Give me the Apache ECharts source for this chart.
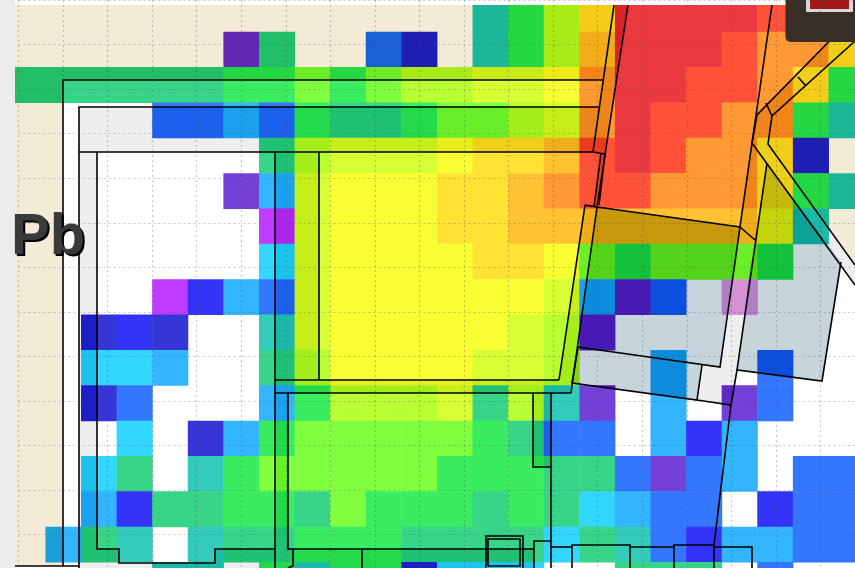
<!DOCTYPE html>
<html><head><meta charset="utf-8">
<style>html,body{margin:0;padding:0;background:#fff}#c{width:855px;height:568px}</style>
<script src="https://cdn.jsdelivr.net/npm/echarts@6/dist/echarts.min.js"></script>
</head><body><div id="c"></div>
<script>
// concentration level per cell (0 = no sample)
const row00=[0,0,0,0,0,0,0,0,0,0,0,0,0,9,11,13,16,20,20,20,20,19,18,18];
const row01=[0,0,0,0,0,0,3,10,0,0,6,4,0,9,11,13,17,20,20,20,19,18,18,16];
const row02=[10,10,10,10,10,10,11,11,12,11,12,13,13,14,14,15,18,20,20,19,19,18,16,11];
const row03=[0,0,0,0,6,6,7,6,11,10,10,11,12,12,13,14,18,20,19,19,18,18,11,9];
const row04=[0,0,0,0,0,0,0,10,13,14,14,14,15,16,16,17,19,20,19,18,18,16,4,0];
const row05=[0,0,0,0,0,0,3,7,14,15,15,15,16,16,17,18,19,19,18,18,18,16,11,9];
const row06=[0,0,0,0,0,0,0,2,14,15,15,15,16,16,17,17,17,17,17,17,17,15,9,0];
const row07=[0,0,0,0,0,0,0,8,14,15,15,15,15,16,16,15,12,11,12,12,12,11,0,0];
const row08=[0,0,0,0,2,5,7,6,14,15,15,15,15,15,15,14,7,3,6,0,1,0,0,0];
const row09=[0,0,4,5,4,0,0,9,14,15,15,15,15,15,14,13,3,0,0,0,0,0,0,0];
const row10=[0,0,8,8,7,0,0,10,13,15,15,15,15,14,14,13,0,0,7,0,0,6,0,0];
const row11=[0,0,4,6,0,0,0,7,11,13,13,13,14,10,13,9,3,0,7,0,3,6,0,0];
const row12=[0,0,0,8,0,4,7,11,12,12,12,12,12,11,10,6,6,0,7,5,7,0,0,0];
const row13=[0,0,8,10,0,9,11,12,12,12,12,12,11,11,11,10,10,6,3,6,7,0,6,6];
const row14=[0,0,7,5,10,10,11,11,10,12,11,11,11,10,11,10,8,7,6,6,0,5,6,6];
const row15=[0,7,10,9,0,9,10,10,11,11,11,10,10,10,10,8,10,9,6,5,7,7,6,6];
const row16=[0,0,0,0,9,9,0,11,9,11,11,4,8,8,8,0,0,10,10,10,0,6,0,0];
const rows=[row00,row01,row02,row03,row04,row05,row06,row07,row08,row09,row10,row11,row12,row13,row14,row15,row16];
const levelColors=['','#E6A6E6','#BF3BFF','#7340D8','#3636D8','#3434F8','#3377FF','#33B5FF','#33D6FF','#33CCBB','#38D488','#3AED60','#80FF40','#B8FF33','#D8FF33','#F8FF33','#FFE233','#FFC233','#FF9933','#FF5238','#EA3A3F'];
const columns=rows[0].map((_,i)=>'c'+i);
const rowNames=rows.map((_,i)=>'r'+i);
const cells=[];
rows.forEach((r,y)=>r.forEach((v,x)=>{if(v>0)cells.push([x,y,v]);}));
const pieces=levelColors.map((c,i)=>({value:i,color:c||'#ffffff'})).slice(1);

// base map decoration (blended over the heat cells)
const beige={tint:'#F4EBD7',burn:'#E6E6E6'},road={tint:'#EEEEEE',burn:'#E6E6E6'},roof={tint:'#C8D4DC',burn:'#D9D9D9'};
const fills=[
 [beige,[[15,5],[63,5],[63,566],[15,566]]],
 [beige,[[63,5],[614,5],[603,80],[63,80]]],
 [beige,[[855,41],[772,116],[768,144],[855,265]]],
 [road,[[79,107],[599,107],[593,152],[79,152]]],
 [road,[[79,152],[97,152],[97,549],[119,549],[119,563],[215,563],[215,549],[275,549],[275,568],[79,568]]],
 [road,[[275,152],[319,152],[319,380],[559,380],[585,205],[597,207],[571,393],[288,393],[288,549],[534,549],[534,568],[275,568]]],
 [road,[[533,393],[551,393],[551,467],[533,467]]],
 [road,[[614,5],[628,5],[597,207],[594,207],[601,153],[593,152]]],
 [road,[[740,227],[755,240],[737,370],[731,405],[697,400],[702,365],[720,367]]],
 [road,[[752,143],[767,163],[755,240],[740,227]]],
 [road,[[853,17],[855,17],[855,41],[772,116],[768,144],[855,265],[855,285],[767,163],[752,143],[757,115]]],
 [roof,[[597,207],[740,227],[720,367],[578,347]]],
 [roof,[[578,347],[702,365],[697,400],[572,383]]],
 [roof,[[767,163],[841,262],[822,381],[737,370],[748,284],[755,240]]]
];
const outlines=[
 [[63,566],[63,80],[603,80]],[[79,568],[79,107],[599,107]],[[79,152],[593,152],[605,154]],
 [[97,152],[97,549],[119,549],[119,563],[215,563],[215,549],[275,549]],[[275,152],[275,568]],
 [[319,152],[319,380]],[[275,380],[559,380]],[[275,393],[571,393]],[[288,393],[288,549],[534,549]],
 [[533,393],[533,467],[551,467]],[[551,393],[551,568]],[[534,568],[534,541],[551,541]],
 [[293,549],[293,566],[288,568]],[[362,549],[362,568]],
 [[486,568],[486,536],[523,536],[523,568]],[[488,566],[488,539],[520,539],[520,566],[488,566]],
 [[551,547],[572,547]],[[572,568],[572,545],[630,545],[630,568]],[[630,547],[674,547]],
 [[674,568],[674,545],[714,545],[714,568]],[[714,547],[752,547],[752,568]],[[714,545],[731,405]],
 [[614,5],[593,152]],[[628,5],[597,207]],[[605,154],[599,205]],[[601,153],[594,207]],
 [[585,205],[597,207],[740,227],[755,240]],[[585,205],[559,380]],[[597,207],[571,393]],
 [[772,5],[752,143],[740,227],[720,367],[578,347]],[[578,347],[572,383],[697,400],[702,365]],
 [[697,400],[731,405],[737,370],[822,381],[841,262]],[[767,163],[737,370]],
 [[853,17],[757,115],[752,143],[855,285]],[[855,41],[772,116],[768,144],[855,265]],
 [[798,77],[806,86]],[[766,103],[772,116]],[[15,566],[79,566]]
];
const graphics=[];
fills.forEach(f=>{
 graphics.push({type:'polygon',z:9,silent:true,shape:{points:f[1]},style:{fill:f[0].burn,blend:'color-burn'}});
 graphics.push({type:'polygon',z:10,silent:true,shape:{points:f[1]},style:{fill:f[0].tint,blend:'multiply'}});
});
outlines.forEach(p=>graphics.push({type:'polyline',z:12,silent:true,shape:{points:p},style:{stroke:'#000',lineWidth:1.6,fill:null}}));
// page margin and corner widget
graphics.push({type:'rect',z:14,silent:true,shape:{x:0,y:0,width:855,height:5},style:{fill:'#fff'}});
graphics.push({type:'rect',z:14,silent:true,shape:{x:0,y:0,width:15,height:568},style:{fill:'#ECECEC'}});
graphics.push({type:'rect',z:14,silent:true,shape:{x:785.5,y:-10,width:90,height:52,r:5},style:{fill:'#3A2E28'}});
graphics.push({type:'rect',z:15,silent:true,shape:{x:806,y:0,width:47,height:12,r:1},style:{fill:'#D8D8D8'}});
graphics.push({type:'rect',z:15,silent:true,shape:{x:810,y:0,width:39,height:9},style:{fill:'#A01818'}});
graphics.push({type:'text',z:19,silent:true,x:13,y:211,style:{text:'Pb',fill:'#000',font:'bold 58px "Liberation Sans"'}});
graphics.push({type:'text',z:20,silent:true,x:11,y:209,style:{text:'Pb',fill:'#3A3A3A',font:'bold 58px "Liberation Sans"'}});

const chart=echarts.init(document.getElementById('c'),null,{renderer:'canvas',width:855,height:568});
const dotted={show:true,lineStyle:{type:[2,3],color:'rgba(70,70,70,0.3)',width:1.2}};
chart.setOption({
 animation:false,
 backgroundColor:'#fff',
 grid:[
  {left:10.1,top:-3.35,width:854.2,height:601,outerBoundsMode:'none'},
  {left:18.5,top:0,width:891,height:579.2,outerBoundsMode:'none'}
 ],
 xAxis:[
  {type:'category',data:columns,gridIndex:0,show:false},
  {type:'value',gridIndex:1,min:0,max:20,interval:1,z:16,axisLabel:{show:false},axisTick:{show:false},axisLine:{show:false},splitLine:dotted}
 ],
 yAxis:[
  {type:'category',data:rowNames,inverse:true,gridIndex:0,show:false},
  {type:'value',gridIndex:1,min:0,max:13,interval:1,z:16,axisLabel:{show:false},axisTick:{show:false},axisLine:{show:false},splitLine:dotted}
 ],
 visualMap:{type:'piecewise',show:false,seriesIndex:0,dimension:2,pieces:pieces},
 series:[{type:'heatmap',xAxisIndex:0,yAxisIndex:0,data:cells,z:2,progressive:0,silent:true,itemStyle:{borderWidth:0},emphasis:{disabled:true}}],
 graphic:{elements:graphics}
});
</script></body></html>
